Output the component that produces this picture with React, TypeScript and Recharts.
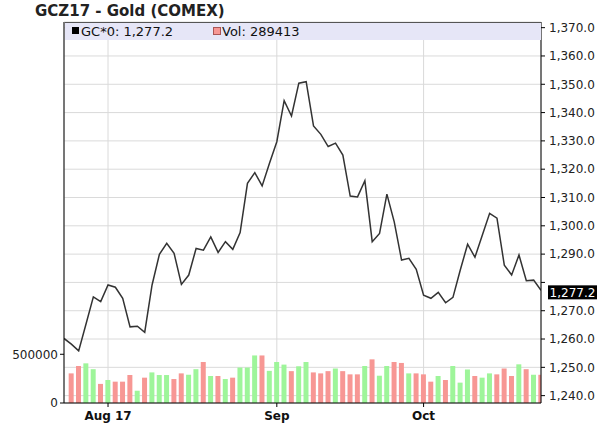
import React from 'react';
import { ComposedChart, Line, Bar, Cell, XAxis, YAxis, CartesianGrid, ReferenceLine } from 'recharts';

// GCZ17 daily settlement, 24 Jul 2017 -> 24 Oct 2017 (one value per trading day)
const closes = [
  1260.2, 1258.2, 1255.8, 1265.3, 1274.9, 1273.2, 1279.1, 1278.3, 1274.4, 1264.3,
  1264.5, 1262.4, 1279.1, 1289.9, 1293.8, 1290.3, 1279.3, 1282.6, 1292.0, 1291.4,
  1296.1, 1290.6, 1294.4, 1291.7, 1297.6, 1315.0, 1318.8, 1314.1, 1322.1, 1329.7,
  1344.2, 1338.8, 1350.4, 1350.9, 1335.3, 1332.3, 1328.0, 1329.2, 1325.0, 1310.5,
  1310.2, 1315.9, 1294.4, 1297.3, 1311.2, 1301.4, 1287.9, 1288.5, 1284.6, 1275.5,
  1274.4, 1276.5, 1272.8, 1274.7, 1284.4, 1293.5, 1288.9, 1296.7, 1304.4, 1302.7,
  1286.1, 1282.6, 1289.7, 1280.6, 1280.8, 1277.2,
];

const volumes = [
  null, 304000, 380000, 407000, 347000, 196000, 236000, 219000, 219000, 287000,
  126000, 260000, 314000, 287000, 287000, 246000, 304000, 290000, 347000, 421000,
  277000, 277000, 246000, 260000, 364000, 364000, 488000, 488000, 330000, 421000,
  394000, 327000, 377000, 421000, 314000, 304000, 327000, 354000, 327000, 294000,
  294000, 380000, 448000, 280000, 380000, 421000, 411000, 304000, 304000, 294000,
  219000, 277000, 236000, 380000, 209000, 344000, 277000, 260000, 304000, 294000,
  354000, 277000, 397000, 347000, 290000, 289413,
];

// month starts (trading-day index) and their labels
const monthTicks = [6, 29, 49];
const monthLabels = ['Aug 17', 'Sep', 'Oct'];

const priceTicks = [1240, 1250, 1260, 1270, 1280, 1290, 1300, 1310, 1320, 1330, 1340, 1350, 1360, 1370];
const volumeTicks = [0, 500000];

const UP = '#9ef59a';
const DOWN = '#f79794';
const FONT = '"DejaVu Sans", Verdana, sans-serif';

const fmtPrice = (v: number) =>
  v.toLocaleString('en-US', { minimumFractionDigits: 1, maximumFractionDigits: 1 });

const data = closes.map((close, i) => ({
  i,
  close,
  vol: volumes[i],
  up: i > 0 && close >= closes[i - 1],
}));

const lastClose = closes[closes.length - 1];
const lastVol = volumes[volumes.length - 1];

// the last-price tag hides the axis label it sits on
const priceTickLabel = (v: number) => (Math.abs(v - lastClose) < 5 ? '' : fmtPrice(v));

const MonthTick = (props: any) => {
  const { x, y, payload } = props;
  const idx = monthTicks.indexOf(payload.value);
  return (
    <text x={x} y={y} dy={11} textAnchor="middle" fontFamily={FONT} fontWeight="bold" fontSize={12} fill="#111">
      {monthLabels[idx]}
    </text>
  );
};

const PriceTag = (props: any) => {
  const vb = props.viewBox || {};
  const x = vb.x + vb.width + 7;
  const y = vb.y + 2;
  return (
    <g>
      <rect x={x} y={y - 7} width={49} height={14} fill="#000" />
      <text x={x + 24.5} y={y} dy={4.5} textAnchor="middle" fontFamily={FONT} fontSize={12} fill="#fff">
        {fmtPrice(lastClose)}
      </text>
    </g>
  );
};

export default function App() {
  return (
    <div style={{ position: 'fixed', left: 0, top: 0, width: 600, height: 423, background: '#fff', fontFamily: FONT }}>
      <div
        style={{
          position: 'absolute', left: 35, top: 4, fontSize: 15, lineHeight: '15px',
          fontWeight: 'bold', color: '#222', whiteSpace: 'nowrap',
        }}
      >
        GCZ17 - Gold (COMEX)
      </div>

      <ComposedChart
        width={600}
        height={423}
        data={data}
        margin={{ top: 22, right: 0, bottom: 0, left: 0 }}
      >
        <CartesianGrid yAxisId="price" stroke="#dadada" ticks={priceTicks} />
        <XAxis
          type="number"
          dataKey="i"
          domain={[0, 65]}
          ticks={monthTicks}
          height={20}
          axisLine={{ stroke: '#000' }}
          tickLine={{ stroke: '#000' }}
          tickSize={4}
          tick={<MonthTick />}
          allowDataOverflow
        />
        <YAxis
          yAxisId="vol"
          orientation="left"
          width={64}
          domain={[0, 3910000]}
          ticks={volumeTicks}
          axisLine={{ stroke: '#000' }}
          tickLine={{ stroke: '#000' }}
          tickSize={4}
          tickMargin={2}
          tick={{ fontFamily: FONT, fontSize: 12, fill: '#222' }}
          tickFormatter={(v: number) => String(v)}
          allowDataOverflow
        />
        <YAxis
          yAxisId="price"
          orientation="right"
          width={59}
          domain={[1237.4, 1372]}
          ticks={priceTicks}
          axisLine={{ stroke: '#000' }}
          tickLine={{ stroke: '#000' }}
          tickSize={4}
          tickMargin={4}
          tick={{ fontFamily: FONT, fontSize: 12, fill: '#222', textAnchor: 'start' }}
          tickFormatter={priceTickLabel}
          allowDataOverflow
        />
        <Bar yAxisId="vol" dataKey="vol" barSize={5} isAnimationActive={false}>
          {data.map((d) => (
            <Cell key={d.i} fill={d.up ? UP : DOWN} />
          ))}
        </Bar>
        <Line
          yAxisId="price"
          dataKey="close"
          type="linear"
          stroke="#333"
          strokeWidth={1.5}
          dot={false}
          isAnimationActive={false}
        />
        <ReferenceLine
          yAxisId="price"
          y={lastClose}
          stroke="none"
          ifOverflow="visible"
          label={(p: any) => <PriceTag {...p} />}
        />
      </ComposedChart>

      {/* legend strip over the top of the plot */}
      <div
        style={{
          position: 'absolute', left: 65, top: 22, width: 476, height: 18, boxSizing: 'border-box',
          background: '#e6e6f7', borderTop: '1px solid #555', fontSize: 13, lineHeight: '17px', color: '#111',
        }}
      >
        <div style={{ position: 'absolute', left: 7, top: 4, width: 7, height: 7, background: '#000' }} />
        <div style={{ position: 'absolute', left: 16, top: 0, whiteSpace: 'nowrap' }}>GC*0: {fmtPrice(lastClose)}</div>
        <div
          style={{
            position: 'absolute', left: 148, top: 4, width: 6, height: 6,
            background: DOWN, border: '0.5px solid #a55',
          }}
        />
        <div style={{ position: 'absolute', left: 157, top: 0, whiteSpace: 'nowrap' }}>Vol: {lastVol}</div>
      </div>
    </div>
  );
}
